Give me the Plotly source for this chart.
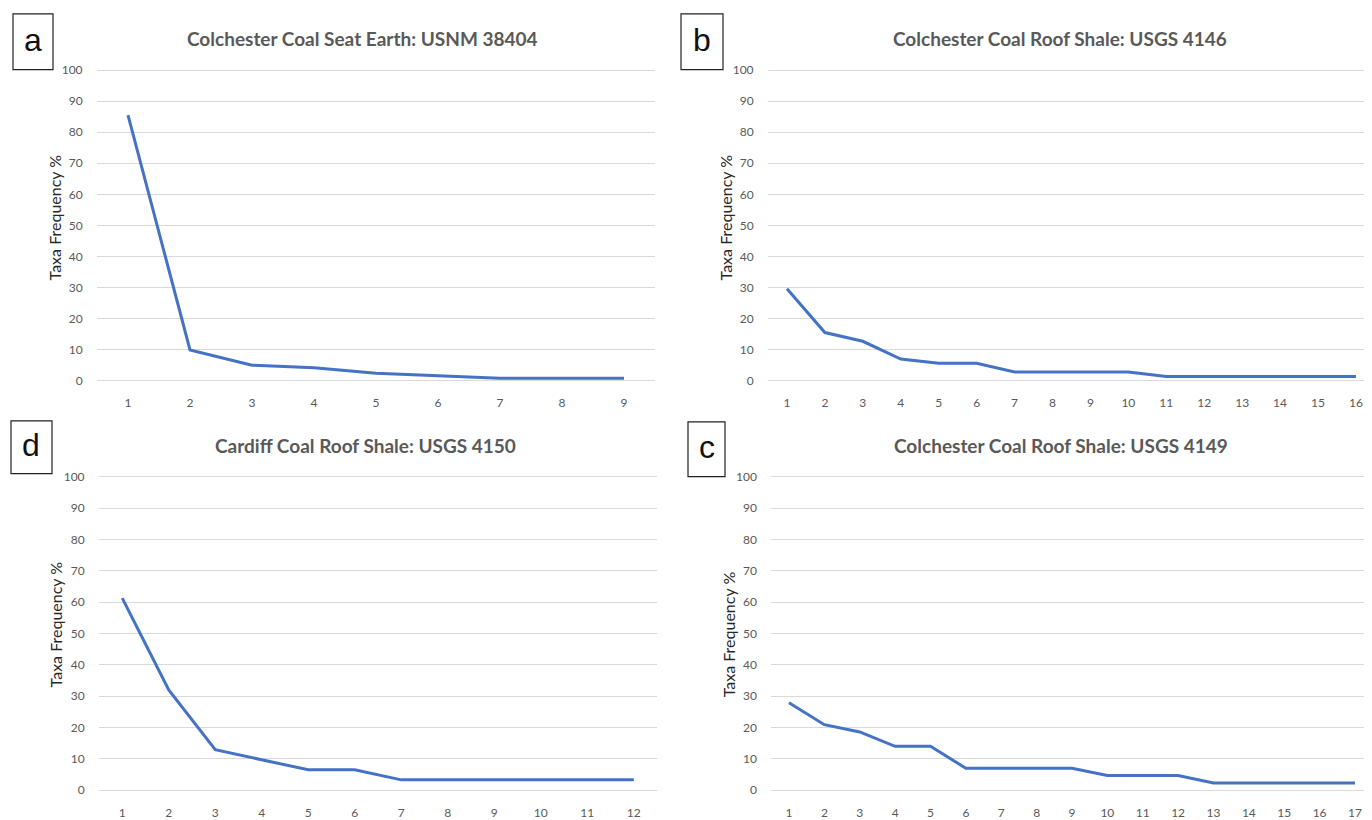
import plotly.graph_objects as go

# page body has an 8px default margin, so the figure is drawn 8px in from the top-left
OFF = 8
W, H = 1372 - OFF, 820 - OFF

# ---- data ----
taxa_a = [1, 2, 3, 4, 5, 6, 7, 8, 9]
freq_a = [85.5, 9.9, 5.0, 4.2, 2.4, 1.7, 0.8, 0.8, 0.8]

taxa_b = list(range(1, 17))
freq_b = [29.6, 15.5, 12.7, 7.0, 5.6, 5.6, 2.8, 2.8, 2.8, 2.8, 1.4, 1.4, 1.4, 1.4, 1.4, 1.4]

taxa_d = list(range(1, 13))
freq_d = [61.3, 32.0, 12.9, 9.8, 6.5, 6.5, 3.3, 3.3, 3.3, 3.3, 3.3, 3.3]

taxa_c = list(range(1, 18))
freq_c = [27.9, 20.9, 18.6, 14.0, 14.0, 7.0, 7.0, 7.0, 7.0, 4.7, 4.7, 4.7, 2.3, 2.3, 2.3, 2.3, 2.3]

titles = {
    "a": "Colchester Coal Seat Earth: USNM 38404",
    "b": "Colchester Coal Roof Shale: USGS 4146",
    "d": "Cardiff Coal Roof Shale: USGS 4150",
    "c": "Colchester Coal Roof Shale: USGS 4149",
}
y_title = "Taxa Frequency %"
y_ticks = [0, 10, 20, 30, 40, 50, 60, 70, 80, 90, 100]

# ---- layout geometry (window pixels) ----
def px(x):
    return min(1.0, max(0.0, (x - OFF) / W))

def py(y):
    return min(1.0, max(0.0, 1 - (y - OFF) / H))

LINE = "#4472C4"
GRID = "#D9D9D9"
TXT = "#595959"
FONT = "Lato"

panels = [
    dict(key="a", x=taxa_a, y=freq_a, xd=(97, 655), xr=(0.5, 9.5), y0=381.5, y100=68.5,
         tpos=(362, 37), ytpos=(54, 217), box=(13, 12, 53, 68)),
    dict(key="b", x=taxa_b, y=freq_b, xd=(768, 1372), xr=(0.5, 0.5 + 604 / 37.93), y0=381.5, y100=68.5,
         tpos=(1060, 37), ytpos=(725, 217), box=(681, 12, 723, 68)),
    dict(key="d", x=taxa_d, y=freq_d, xd=(99, 657), xr=(0.5, 12.5), y0=794, y100=478.3,
         tpos=(365, 447), ytpos=(55, 627), box=(11, 422, 52, 475)),
    dict(key="c", x=taxa_c, y=freq_c, xd=(771.3, 1372), xr=(0.5, 0.5 + 600.7 / 35.375), y0=794, y100=478.3,
         tpos=(1061, 447), ytpos=(728, 637), box=(688, 423, 725, 478)),
]

fig = go.Figure()
layout = dict(
    width=W, height=H,
    margin=dict(l=0, r=0, t=0, b=0),
    paper_bgcolor="white", plot_bgcolor="white",
    showlegend=False,
    annotations=[], shapes=[],
)

for i, p in enumerate(panels):
    n = i + 1
    xa = "x" if n == 1 else f"x{n}"
    ya = "y" if n == 1 else f"y{n}"
    fig.add_trace(go.Scatter(
        x=p["x"], y=p["y"], mode="lines",
        line=dict(color=LINE, width=3),
        xaxis=xa, yaxis=ya, hoverinfo="skip",
    ))
    scale = (p["y0"] - p["y100"]) / 100.0
    pad = 2
    ybot = p["y0"] + pad * scale
    ytop = p["y100"] - pad * scale
    xkey = "xaxis" if n == 1 else f"xaxis{n}"
    ykey = "yaxis" if n == 1 else f"yaxis{n}"
    layout[xkey] = dict(
        domain=[px(p["xd"][0]), px(p["xd"][1])],
        range=list(p["xr"]),
        anchor=ya,
        tickmode="array", tickvals=p["x"], ticktext=[str(v) for v in p["x"]],
        showgrid=False, zeroline=False, showline=False,
        ticks="outside", ticklen=5, tickcolor="rgba(0,0,0,0)",
        tickfont=dict(family=FONT, size=12, color=TXT),
    )
    layout[ykey] = dict(
        domain=[py(ybot), py(ytop)],
        range=[-pad, 100 + pad],
        anchor=xa,
        tickmode="array", tickvals=y_ticks,
        showgrid=True, gridcolor=GRID, gridwidth=1,
        zeroline=False, showline=False,
        ticks="outside", ticklen=11, tickcolor="rgba(0,0,0,0)",
        tickfont=dict(family=FONT, size=12, color=TXT),
    )
    # title
    layout["annotations"].append(dict(
        text=f"<b>{titles[p['key']]}</b>", xref="paper", yref="paper",
        x=px(p["tpos"][0]), y=py(p["tpos"][1]), xanchor="center", yanchor="middle",
        showarrow=False, font=dict(family=FONT, size=19, color=TXT),
    ))
    # y title
    layout["annotations"].append(dict(
        text=y_title, xref="paper", yref="paper", textangle=-90,
        x=px(p["ytpos"][0]), y=py(p["ytpos"][1]), xanchor="center", yanchor="middle",
        showarrow=False, font=dict(family=FONT, size=16, color="#262626"),
    ))
    # label box
    x0, y0, x1, y1 = p["box"]
    layout["shapes"].append(dict(
        type="rect", xref="paper", yref="paper",
        x0=px(x0), x1=px(x1), y0=py(y1), y1=py(y0),
        line=dict(color="#222222", width=1.2), fillcolor="white",
    ))
    layout["annotations"].append(dict(
        text=p["key"], xref="paper", yref="paper",
        x=px((x0 + x1) / 2), y=py((y0 + y1) / 2 - 2), xanchor="center", yanchor="middle",
        showarrow=False, font=dict(family="Liberation Sans", size=32, color="#111111"),
    ))

fig.update_layout(**layout)
fig.write_html("out.html")
